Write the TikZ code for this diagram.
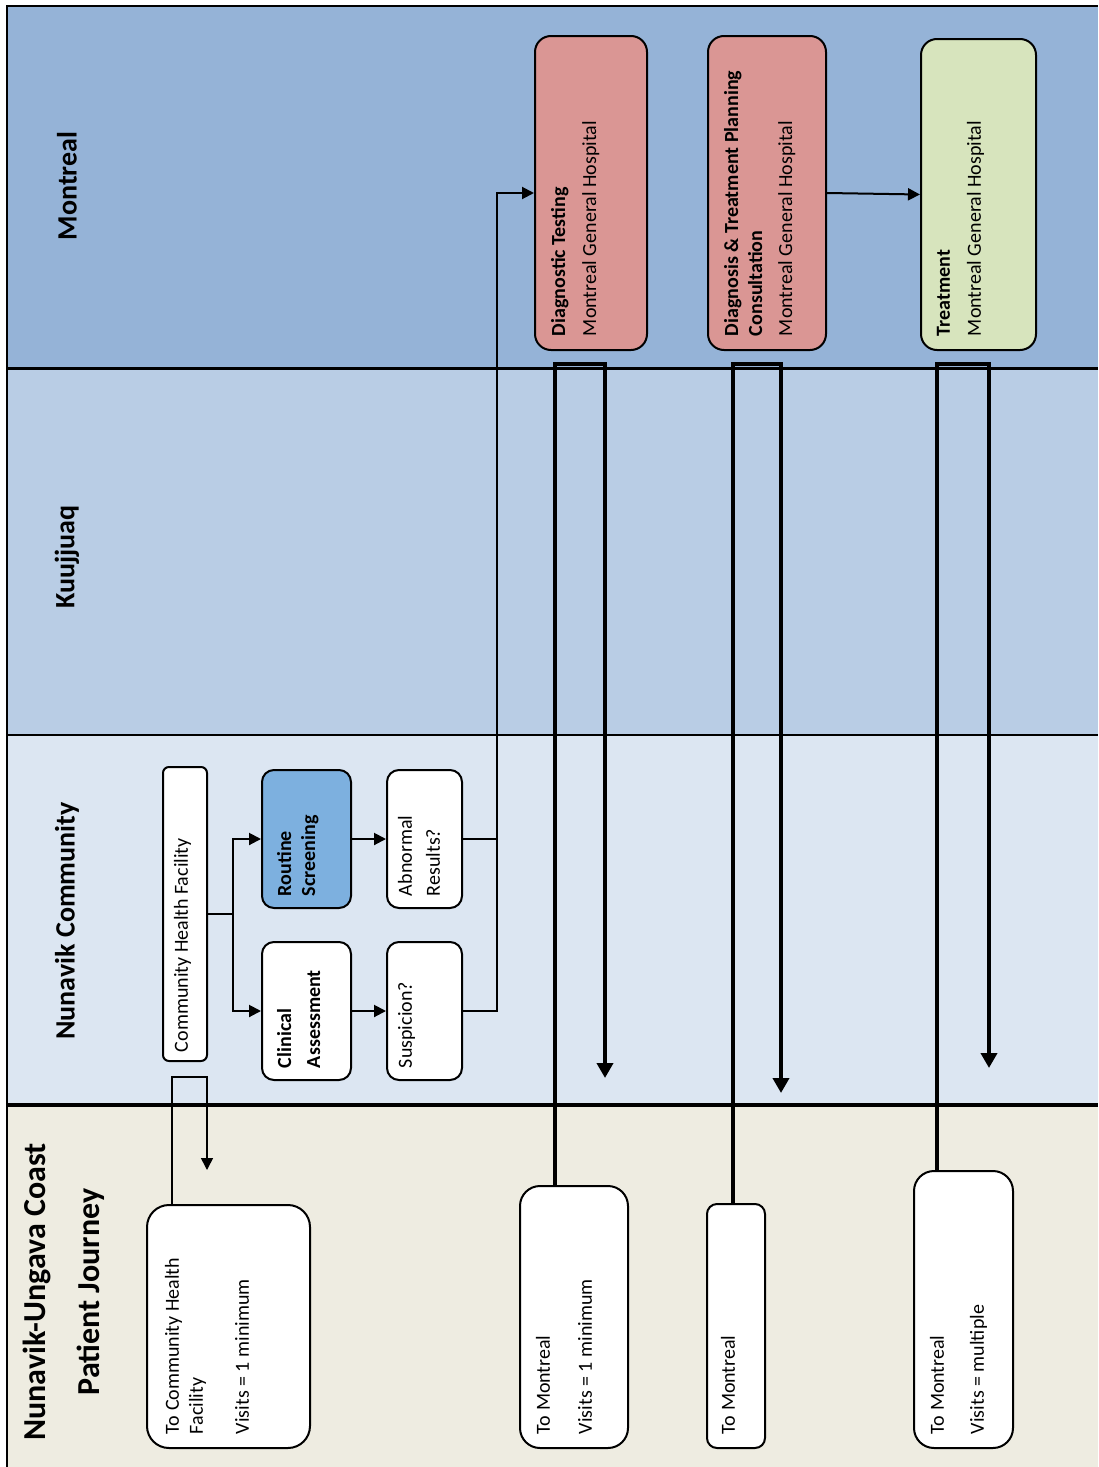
\documentclass[tikz,border=0pt]{standalone}
\usepackage{fontspec}
\setmainfont{Carlito}
\usetikzlibrary{arrows.meta}

\definecolor{mtlblue}{HTML}{95B3D7}
\definecolor{kujblue}{HTML}{B9CDE5}
\definecolor{nunblue}{HTML}{DCE6F2}
\definecolor{coastgrey}{HTML}{EEECE1}
\definecolor{testred}{HTML}{DA9694}
\definecolor{treatgreen}{HTML}{D7E4BD}
\definecolor{screenblue}{HTML}{7DB0DF}

\newcommand{\cardtext}[3]{\parbox[c][#2][t]{#1}{\raggedright#3}}

\begin{document}
\begin{tikzpicture}[x=.5pt,y=-.5pt,
    card/.style={draw,line width=1pt,rounded corners=8pt,rotate=90,
      inner xsep=7pt,inner ysep=8pt,font=\fontsize{10}{12}\selectfont},
    lane/.style={rotate=90,font=\bfseries\fontsize{14}{17}\selectfont},
    link/.style={line width=1pt},
    hop/.style={line width=2.2pt},
    flow/.style={-{Triangle[length=6pt,width=6pt]}},
    bigflow/.style={-{Triangle[length=7.5pt,width=8pt]}}]
  \useasboundingbox (0,0) rectangle (1098,1467);
  % lanes
  \fill[mtlblue] (7,6) rectangle (1098,368);
  \fill[kujblue] (7,368) rectangle (1098,735);
  \fill[nunblue] (7,735) rectangle (1098,1105);
  \fill[coastgrey] (7,1105) rectangle (1098,1467);
  \draw[line width=1.2pt] (7,1467) -- (7,6) -- (1098,6);
  \draw[line width=1.5pt] (7,368) -- (1098,368);
  \draw[line width=1pt] (7,735) -- (1098,735);
  \draw[line width=2pt] (7,1105) -- (1098,1105);

  \node[lane] (mtl) at (67,186) {Montreal};
  \node[lane] (kuj) at (67,557) {Kuujjuaq};
  \node[lane] (nun) at (67,921) {Nunavik Community};
  \node[lane,align=center,font=\bfseries\fontsize{16}{27}\selectfont] (coast) at (64,1292)
    {Nunavik-Ungava Coast\\Patient Journey};

  % Montreal
  \node[card,fill=testred] (diag) at (591,193) {\cardtext{143pt}{40pt}{%
    \textbf{Diagnostic Testing}\\[3.5pt]Montreal General Hospital}};
  \node[card,fill=testred] (plan) at (767,193) {\cardtext{143pt}{43pt}{%
    \textbf{Diagnosis \& Treatment Planning}\\\textbf{Consultation}\\[3pt]Montreal General Hospital}};
  \node[card,fill=treatgreen] (treat) at (978.5,194.5) {\cardtext{141.5pt}{41.5pt}{%
    \textbf{Treatment}\\[3.5pt]Montreal General Hospital}};

  % community
  \node[card,fill=white,rounded corners=3pt,inner xsep=4.5pt,inner ysep=5.5pt] (chf) at (185,914)
    {\cardtext{138pt}{11pt}{Community Health Facility}};
  \node[card,fill=white,rounded corners=6pt,inner xsep=6pt,inner ysep=7.5pt] (clin) at (306.5,1011)
    {\cardtext{57pt}{29.5pt}{\textbf{Clinical}\\[2.5pt]\textbf{Assessment}}};
  \node[card,fill=screenblue,rounded corners=6pt,inner xsep=6pt,inner ysep=7.5pt] (rout) at (306.5,839)
    {\cardtext{57pt}{29.5pt}{\textbf{Routine}\\\textbf{Screening}}};
  \node[card,fill=white,rounded corners=6pt,inner xsep=6pt,inner ysep=5.5pt] (susp) at (424.5,1011)
    {\cardtext{57pt}{26.5pt}{Suspicion?}};
  \node[card,fill=white,rounded corners=6pt,inner xsep=6pt,inner ysep=5.5pt] (abn) at (424.5,839)
    {\cardtext{57pt}{26.5pt}{Abnormal\\[2pt]Results?}};

  % coast
  \node[card,fill=white,rounded corners=11pt,inner ysep=9pt] (tocomm) at (228.5,1326.5)
    {\cardtext{107.5pt}{63.5pt}{To Community Health\\Facility\\[11pt]Visits = 1 minimum}};
  \node[card,fill=white,rounded corners=10pt] (tomtl1) at (574,1317)
    {\cardtext{117pt}{38pt}{To Montreal\\[9pt]Visits = 1 minimum}};
  \node[card,fill=white,rounded corners=5pt,inner ysep=7pt] (tomtl2) at (736,1326)
    {\cardtext{108pt}{15pt}{To Montreal}};
  \node[card,fill=white,rounded corners=10pt] (tomtl3) at (963.5,1309.5)
    {\cardtext{124.5pt}{33.5pt}{To Montreal\\[8pt]Visits = multiple}};

  % trips
  \coordinate (c1a) at (172,1077);
  \coordinate (c1b) at (207,1077);
  \coordinate (c1c) at (207,1170);
  \draw[line width=.8pt,flow] (tocomm.east -| c1a) -- (c1a) -- (c1b) -- (c1c);
  \coordinate (r1a) at (555,364);
  \coordinate (r1b) at (605,364);
  \coordinate (r1c) at (605,1078);
  \draw[hop,bigflow] (tomtl1.east -| r1a) -- (r1a) -- (r1b) -- (r1c);
  \coordinate (r2a) at (733,364);
  \coordinate (r2b) at (781,364);
  \coordinate (r2c) at (781,1093);
  \draw[hop,bigflow] (tomtl2.east -| r2a) -- (r2a) -- (r2b) -- (r2c);
  \coordinate (r3a) at (937,364);
  \coordinate (r3b) at (989,364);
  \coordinate (r3c) at (989,1068);
  \draw[hop,bigflow] (tomtl3.east -| r3a) -- (r3a) -- (r3b) -- (r3c);

  % pathway
  \coordinate (split) at (233,914);
  \draw[link] (chf.south) -- (split);
  \draw[link,flow] (split) |- (rout.north);
  \draw[link,flow] (split) |- (clin.north);
  \draw[link,flow] (rout.south) -- (abn.north);
  \draw[link,flow] (clin.south) -- (susp.north);
  \coordinate (merge) at (497,193);
  \draw[link] (abn.south) -- (abn.south -| merge);
  \draw[link,flow] (susp.south) -| (merge) -- (diag.north);
  \draw[link,flow] (plan.south) -- (treat.north);
\end{tikzpicture}
\end{document}
